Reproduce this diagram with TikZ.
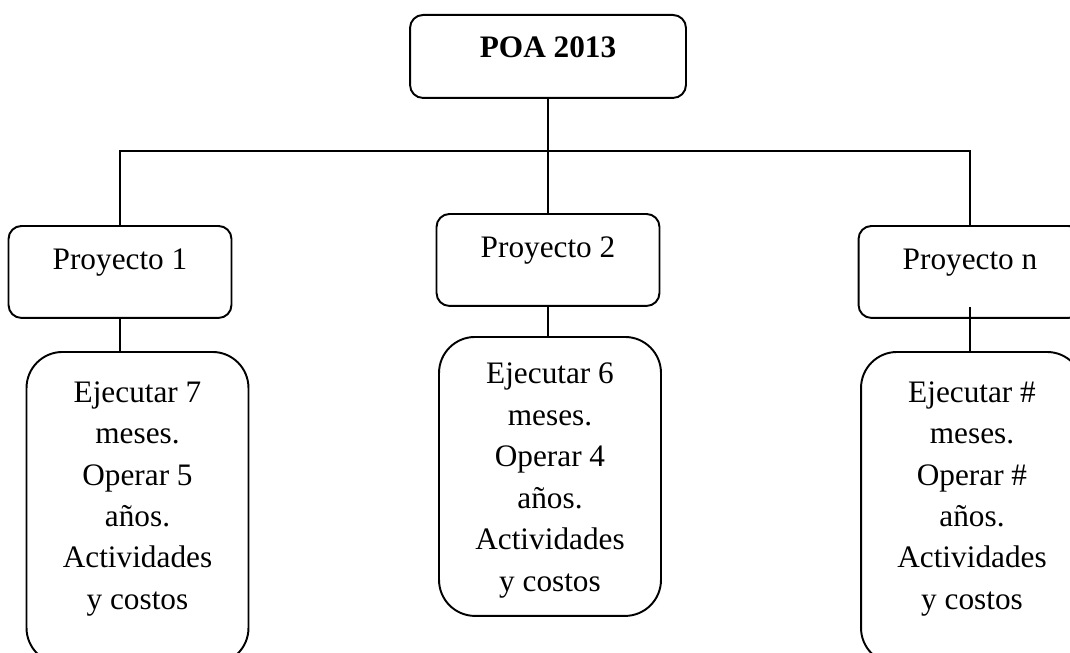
\documentclass[tikz,border=0pt]{standalone}
\usepackage{fontspec}
\setmainfont{Liberation Serif}
\usetikzlibrary{calc}

\begin{document}
\begin{tikzpicture}[x=0.02cm, y=-0.02cm, line width=1.1pt,
    headbox/.style={draw, rounded corners=0.26cm, anchor=north, minimum width=5.52cm, minimum height=1.66cm, text height=0.44cm, text depth=0.38cm, font=\fontsize{17.8pt}{23.6pt}\selectfont\bfseries},
    projbox/.style={draw, rounded corners=0.26cm, anchor=north, minimum width=4.46cm, minimum height=1.84cm, text height=0.44cm, text depth=0.52cm, font=\fontsize{17.8pt}{23.6pt}\selectfont},
    planbox/.style={draw, rounded corners=0.72cm, anchor=north, minimum width=4.44cm, align=center, text height=4.59cm, font=\fontsize{17.8pt}{23.6pt}\selectfont}]
        \clip (0,0) rectangle (1070,652);

        \node[headbox] (poa) at (548,14) {POA 2013};

        \node[projbox] (p1) at (120,225) {Proyecto 1};
        \node[projbox] (p2) at (548,213) {Proyecto 2};
        \node[projbox] (pn) at (970,225) {Proyecto n};

        \node[planbox, minimum height=6.24cm, text depth=0.53cm] (b1) at (137.5,351) {Ejecutar 7\\ meses.\\ Operar 5\\ años.\\ Actividades\\ y costos};
        \node[planbox, minimum height=5.58cm, text depth=0cm] (b2) at (550,336) {Ejecutar 6\\ meses.\\ Operar 4\\ años.\\ Actividades\\ y costos};
        \node[planbox, minimum height=6.24cm, text depth=0.53cm] (bn) at (972,351) {Ejecutar \#\\ meses.\\ Operar \#\\ años.\\ Actividades\\ y costos};

        % bus line
        \coordinate (bus) at (548,151);
        \draw (poa) -- (p2);
        \draw (p1.north) |- (bus) -| (pn.north);

        \draw (p1) -- (p1 |- b1.north);
        \draw (p2) -- (p2 |- b2.north);
        \draw ([yshift=0.24cm]pn.south) -- (pn.south |- bn.north);
      \end{tikzpicture}
\end{document}
